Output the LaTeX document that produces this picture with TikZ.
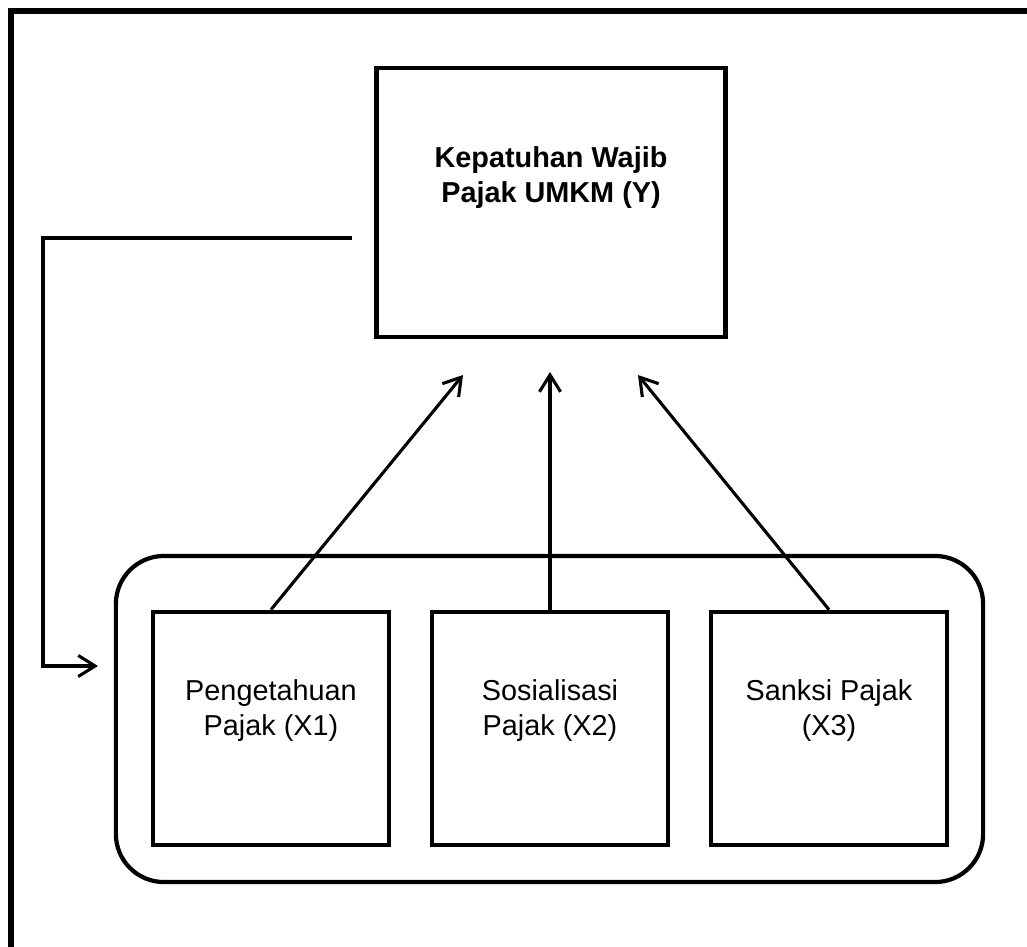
\documentclass[tikz,border=0pt]{standalone}
\usepackage{fontspec}
\setmainfont{Liberation Sans}
\usetikzlibrary{arrows.meta, calc}

\begin{document}
\begin{tikzpicture}[
    x=0.025cm, y=-0.025cm,
    frame/.style={draw=black, line width=3.6pt},
    varbox/.style={rectangle, draw=black, line width=3.3pt, minimum width=5.9cm, minimum height=5.825cm},
    ybox/.style={rectangle, draw=black, line width=3.5pt, minimum width=8.7cm, minimum height=6.725cm},
    groupbox/.style={rectangle, draw=black, line width=3pt, rounded corners=1.2cm, minimum width=21.675cm, minimum height=8.15cm},
    vartext/.style={align=center, font=\fontsize{20.5}{25}\selectfont},
    arrow/.style={-{Straight Barb[length=12pt, width=15pt]}, line width=2.2pt, black}
]

    \useasboundingbox (0,0) rectangle (1027,947);
    \clip (0,0) rectangle (1027,947);

    % --- Outer frame (runs off the page at right and bottom) ---
    \draw[frame] (11,11) rectangle (1100,1020);

    % --- Dependent variable ---
    \node[ybox] (Y) at (551,202.5) {};
    \node[vartext, font=\fontsize{20.5}{25}\selectfont\bfseries] (Ylabel) at ($(Y.center)+(0,-25)$)
        {Kepatuhan Wajib\\Pajak UMKM (Y)};

    % --- Independent variables ---
    \node[groupbox] (grp) at (549.5,719) {};

    \node[varbox] (X1) at (271,728.5) {};
    \node[varbox] (X2) at (550,728.5) {};
    \node[varbox] (X3) at (829,728.5) {};

    \node[vartext] (X1label) at ($(X1.center)+(0,-18)$) {Pengetahuan\\Pajak (X1)};
    \node[vartext] (X2label) at ($(X2.center)+(0,-18)$) {Sosialisasi\\Pajak (X2)};
    \node[vartext] (X3label) at ($(X3.center)+(0,-18)$) {Sanksi Pajak\\(X3)};

    % --- Arrow ends below Y ---
    \coordinate (tip1) at (463,375);
    \coordinate (tip2) at (550,372);
    \coordinate (tip3) at (638,375);

    % --- Partial effects ---
    \draw[arrow] (X1.north) -- (tip1);
    \draw[arrow] (X2.north) -- (tip2);
    \draw[arrow] (X3.north) -- (tip3);

    % --- Feedback line ---
    \coordinate (fbstart) at (352,238);
    \coordinate (fbend) at (98,666);
    \draw[arrow] (fbstart) -- (43,238) |- (fbend);

\end{tikzpicture}
\end{document}
